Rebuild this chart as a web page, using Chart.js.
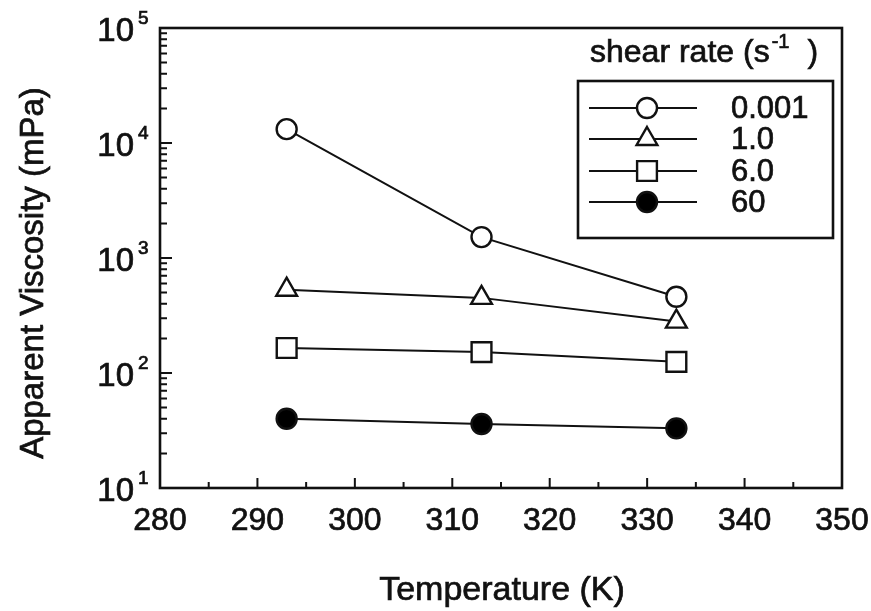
<!DOCTYPE html>
<html>
<head>
<meta charset="utf-8">
<script src="https://cdn.jsdelivr.net/npm/chart.js@4.4.1/dist/chart.umd.min.js"></script>
<style>
  html, body { margin: 0; padding: 0; background: #fff; }
  #wrap { width: 871px; height: 611px; }
</style>
</head>
<body>
<div id="wrap"><canvas id="chart" width="871" height="611"></canvas></div>
<script>
// data
const temperatures = [293, 313, 333];
const shearRates = ['0.001', '1.0', '6.0', '60'];
const visc0001 = [13200, 1520, 460];
const visc1 = [530, 450, 280];
const visc6 = [165, 152, 125];
const visc60 = [40, 36, 33];

const xTicks = [280, 290, 300, 310, 320, 330, 340, 350];
const xMinorTicks = [285, 295, 305, 315, 325, 335, 345];
const yExponents = [1, 2, 3, 4, 5];

const xTitle = 'Temperature (K)';
const yTitle = 'Apparent Viscosity (mPa)';
const legendTitle = 'shear rate (s';

const FONT = '"Liberation Sans", Arial, Helvetica, sans-serif';
const INK = '#111';

function pts(vals) {
    return temperatures.map((t, i) => ({ x: t, y: vals[i] }));
}

const markers = [
    { style: 'circle', radius: 10, fill: '#fff' },
    { style: 'triangle', radius: 12, fill: '#fff' },
    { style: 'rect', radius: 14, fill: '#fff' },
    { style: 'circle', radius: 10, fill: '#000' }
];

const series = [visc0001, visc1, visc6, visc60];

const datasets = series.map((vals, i) => ({
    label: shearRates[i],
    data: pts(vals),
    borderColor: INK,
    borderWidth: 2,
    pointStyle: markers[i].style,
    pointRadius: markers[i].radius,
    pointBackgroundColor: markers[i].fill,
    pointBorderColor: INK,
    pointBorderWidth: 2.4,
    tension: 0
}));

// scanned text looks a bit heavy, so fill and lightly stroke
function text(ctx, s, x, y) {
    ctx.fillText(s, x, y);
    ctx.lineWidth = 0.7;
    ctx.strokeText(s, x, y);
}

// axes, ticks, labels and legend drawn here
const frame = {
    id: 'frame',
    afterDatasetsDraw(chart) {
        const ctx = chart.ctx;
        const a = chart.chartArea;
        const xs = chart.scales.x, ys = chart.scales.y;
        ctx.save();
        ctx.strokeStyle = INK;
        ctx.fillStyle = INK;

        // frame
        ctx.lineWidth = 2.6;
        ctx.strokeRect(a.left, a.top, a.right - a.left, a.bottom - a.top);

        // x ticks (inward)
        ctx.lineWidth = 2;
        ctx.beginPath();
        xTicks.forEach(v => {
            const px = xs.getPixelForValue(v);
            ctx.moveTo(px, a.bottom); ctx.lineTo(px, a.bottom - 10);
        });
        xMinorTicks.forEach(v => {
            const px = xs.getPixelForValue(v);
            ctx.moveTo(px, a.bottom); ctx.lineTo(px, a.bottom - 6);
        });
        // y ticks (log)
        yExponents.forEach((e, k) => {
            const base = Math.pow(10, e);
            const py = ys.getPixelForValue(base);
            ctx.moveTo(a.left, py); ctx.lineTo(a.left + 12, py);
            if (k < yExponents.length - 1) {
                for (let m = 2; m <= 9; m++) {
                    const pm = ys.getPixelForValue(base * m);
                    ctx.moveTo(a.left, pm); ctx.lineTo(a.left + 7, pm);
                }
            }
        });
        ctx.stroke();

        // x tick labels
        ctx.font = '32px ' + FONT;
        ctx.textAlign = 'center';
        ctx.textBaseline = 'middle';
        xTicks.forEach(v => {
            text(ctx, String(v), xs.getPixelForValue(v), a.bottom + 33);
        });

        // y tick labels 10^n
        yExponents.forEach(e => {
            const py = ys.getPixelForValue(Math.pow(10, e));
            ctx.font = '33px ' + FONT;
            ctx.textAlign = 'right';
            ctx.textBaseline = 'middle';
            text(ctx, '10', 134, py + 4);
            ctx.font = '19px ' + FONT;
            ctx.textAlign = 'left';
            text(ctx, String(e), 138, py - 9);
        });

        // axis titles
        ctx.font = '34px ' + FONT;
        ctx.textAlign = 'center';
        ctx.textBaseline = 'middle';
        text(ctx, xTitle, 502, 591);
        ctx.save();
        ctx.translate(34, 273);
        ctx.rotate(-Math.PI / 2);
        ctx.font = '33px ' + FONT;
        text(ctx, yTitle, 0, 0);
        ctx.restore();

        // legend title
        ctx.font = '32px ' + FONT;
        ctx.textAlign = 'left';
        ctx.textBaseline = 'middle';
        let tx = 590;
        text(ctx, legendTitle, tx, 53);
        tx += ctx.measureText(legendTitle).width + 2;
        ctx.font = '20px ' + FONT;
        text(ctx, '-1', tx, 42);
        tx += ctx.measureText('-1').width + 18;
        ctx.font = '32px ' + FONT;
        text(ctx, ')', tx, 53);

        // legend box
        ctx.lineWidth = 2.6;
        ctx.strokeRect(578, 81, 255, 157);
        const rows = [108, 139, 171, 202];
        datasets.forEach((ds, i) => {
            const y = rows[i];
            ctx.lineWidth = 2;
            ctx.strokeStyle = INK;
            ctx.beginPath();
            ctx.moveTo(589, y); ctx.lineTo(697, y);
            ctx.stroke();
            ctx.fillStyle = ds.pointBackgroundColor;
            ctx.lineWidth = 2.4;
            Chart.helpers.drawPoint(ctx, {
                pointStyle: ds.pointStyle,
                radius: ds.pointRadius,
                borderWidth: 2.4,
                rotation: 0
            }, 647, y);
            ctx.fillStyle = INK;
            ctx.font = '31px ' + FONT;
            ctx.textAlign = 'left';
            text(ctx, ds.label, 731, y + 1);
        });

        ctx.restore();
    }
};

new Chart(document.getElementById('chart'), {
    type: 'line',
    data: { datasets: datasets },
    options: {
        responsive: false,
        animation: false,
        layout: { padding: { left: 160, right: 29, top: 28, bottom: 123 } },
        plugins: { legend: { display: false }, tooltip: { enabled: false } },
        scales: {
            x: { type: 'linear', min: 280, max: 350, display: false },
            y: { type: 'logarithmic', min: 10, max: 100000, display: false }
        }
    },
    plugins: [frame]
});
</script>
</body>
</html>
